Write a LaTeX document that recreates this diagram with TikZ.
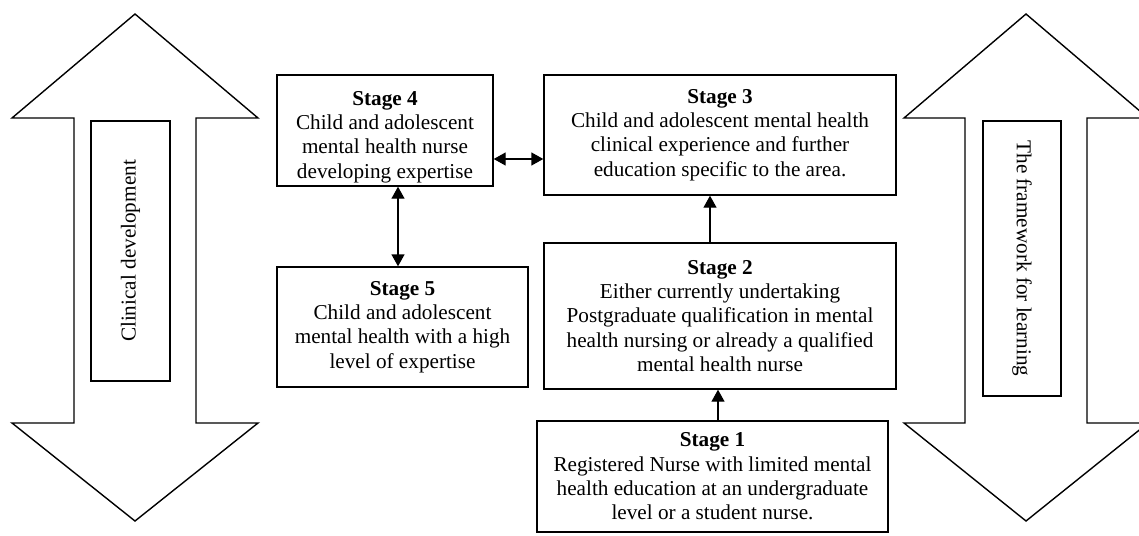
\documentclass[tikz,border=0pt]{standalone}
\usepackage{fontspec}
\setmainfont{Liberation Serif}
\usetikzlibrary{arrows.meta}
\begin{document}
\begin{tikzpicture}[x=1pt,y=-1pt,
  txt/.style={font=\fontsize{21.2}{24.3}\selectfont},
  stagebox/.style={draw, line width=1.4pt, align=center, inner sep=0pt, txt},
  labelbox/.style={draw, line width=1.4pt, inner sep=0pt, txt},
  bigarrow/.style={draw, line width=1.4pt, line join=miter},
  link/.style={line width=1.4pt, -{Triangle[length=12pt,width=13pt]}},
  twoway/.style={line width=1.4pt, {Triangle[length=12pt,width=13pt]}-{Triangle[length=12pt,width=13pt]}}]
\useasboundingbox (0,0) rectangle (1139,535);
\clip (0,0) rectangle (1139,535);

% two-headed block arrows at the sides
\draw[bigarrow] (135,14) -- (258,118) -- (196,118) -- (196,423) -- (258,423)
  -- (135,521) -- (12,423) -- (74,423) -- (74,118) -- (12,118) -- cycle;
\draw[bigarrow] (1026,14) -- (1148,118) -- (1087,118) -- (1087,423) -- (1148,423)
  -- (1026,521) -- (904,423) -- (965,423) -- (965,118) -- (904,118) -- cycle;

\node[labelbox, rotate=90, minimum width=260pt, minimum height=79pt] (clin) at (130.5,251) {Clinical development};
\node[labelbox, rotate=-90, minimum width=275pt, minimum height=78pt] (frame) at (1022,258.5) {The framework for learning};

% stages
\node[stagebox, minimum width=216pt, minimum height=111pt] (s4) at (385,130.5)
  {\rule{0pt}{27pt}\textbf{Stage 4}\\Child and adolescent\\mental health nurse\\developing expertise};
\node[stagebox, minimum width=352pt, minimum height=120pt] (s3) at (720,135)
  {\textbf{Stage 3}\\Child and adolescent mental health\\clinical experience and further\\education specific to the area.};
\node[stagebox, minimum width=251pt, minimum height=120pt] (s5) at (402.5,327)
  {\textbf{Stage 5}\\Child and adolescent\\mental health with a high\\level of expertise};
\node[stagebox, minimum width=352pt, minimum height=146pt] (s2) at (720,316)
  {\textbf{Stage 2}\\Either currently undertaking\\Postgraduate qualification in mental\\health nursing or already a qualified\\mental health nurse};
\node[stagebox, minimum width=351pt, minimum height=111pt] (s1) at (712.5,476.5)
  {\textbf{Stage 1}\\Registered Nurse with limited mental\\health education at an undergraduate\\level or a student nurse.};

% connectors
\draw[twoway] ([yshift=-28.5pt]s4.east) -- ([yshift=-28.5pt]s4.east -| s3.west);
\draw[twoway] ([xshift=13pt]s4.south) -- ([xshift=13pt]s4.south |- s5.north);
\draw[link] ([xshift=5.5pt]s1.north) -- ([xshift=5.5pt]s1.north |- s2.south);
\draw[link] ([xshift=-10pt]s2.north) -- ([xshift=-10pt]s2.north |- s3.south);
\end{tikzpicture}
\end{document}
